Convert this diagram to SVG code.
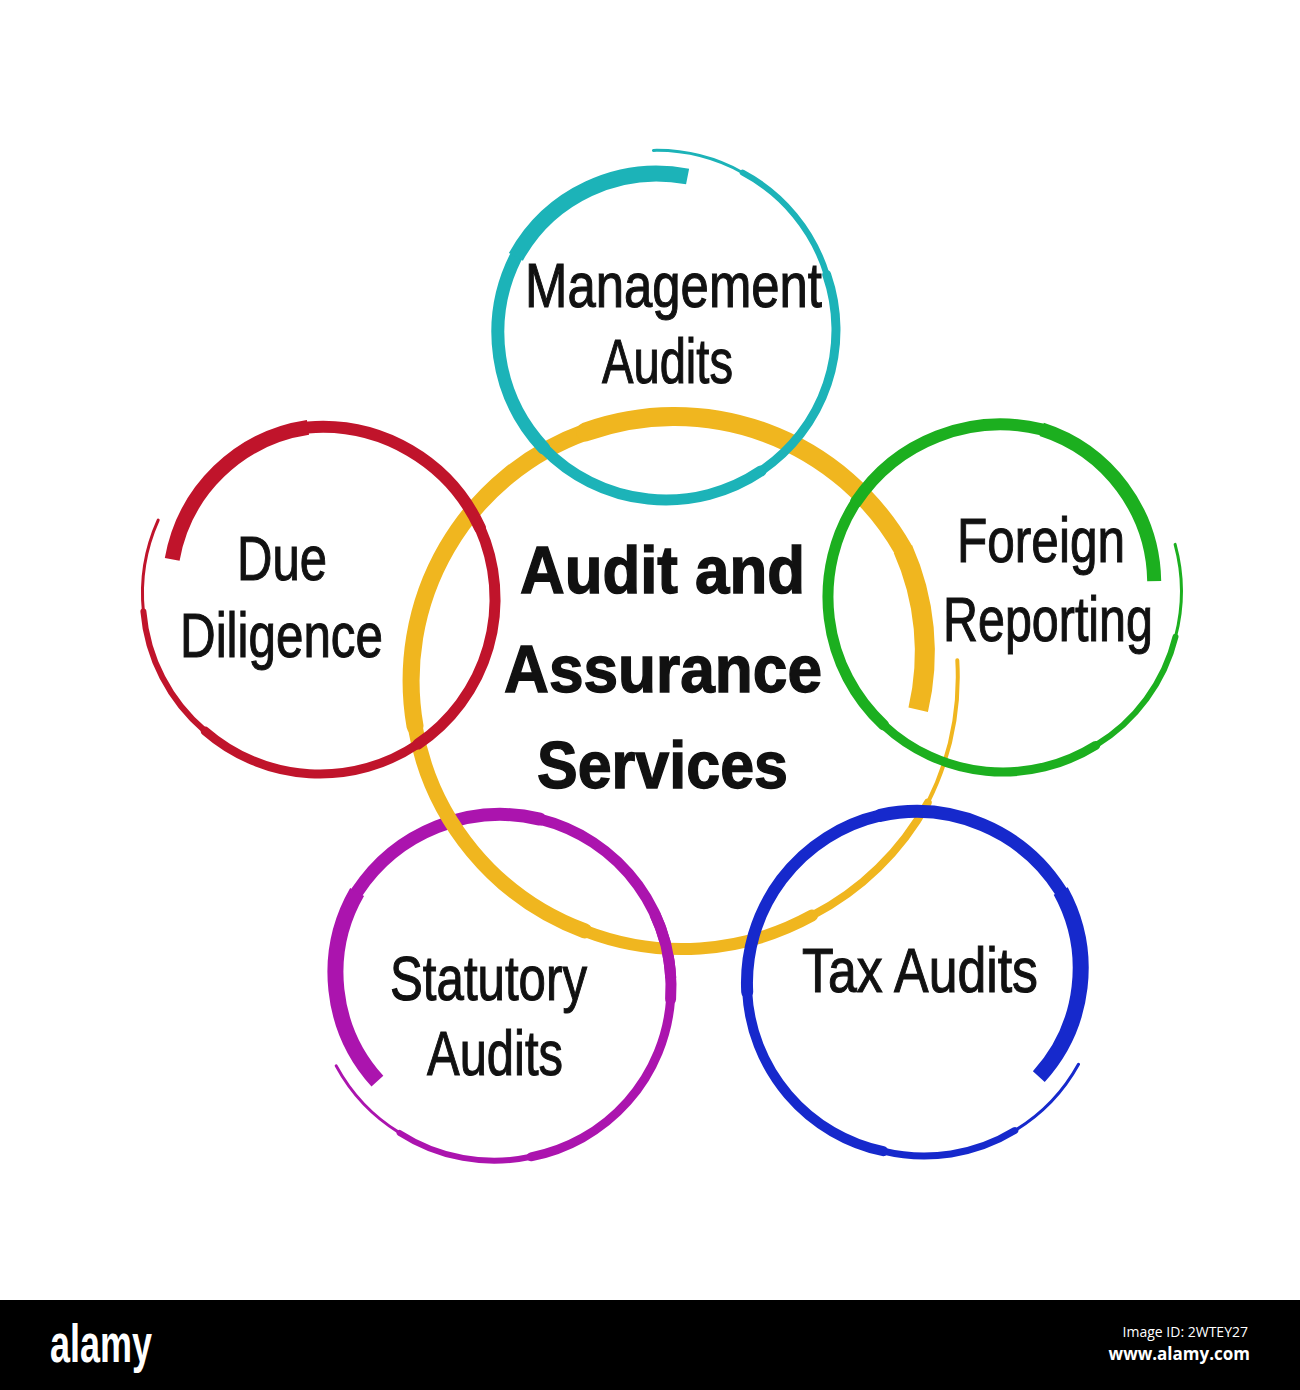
<svg xmlns="http://www.w3.org/2000/svg" width="1300" height="1390" viewBox="0 0 1300 1390">
<style>
.seg path{fill:none;stroke-linecap:round}
.seg path.end{stroke-linecap:butt}
.teal path{stroke:#1cb3b8}
.red path{stroke:#c0142b}
.green path{stroke:#1caf1f}
.purple path{stroke:#ab14ae}
.blue path{stroke:#1629cc}
.yellow path{stroke:#f0b61f}
.lbl{font-family:"Liberation Sans",Arial,sans-serif;font-size:63px;fill:#111;stroke:#111;stroke-width:1.1px}
.ctr{font-family:"Liberation Sans",Arial,sans-serif;font-size:67px;font-weight:bold;fill:#111;stroke:#111;stroke-width:1.4px}
</style>
<rect width="1300" height="1390" fill="#ffffff"/>
<g id="connectors"/>
<g id="node-statutory-ring" class="seg purple">
<path stroke-width="3" d="M336.2,1065.9 A178,178 0 0 0 399.6,1132.9"/>
<path stroke-width="6" d="M399.6,1132.9 A174.5,174.5 0 0 0 531.0,1156.8"/>
<path stroke-width="9" d="M531.0,1156.8 A173,173 0 0 0 670.6,999.1"/>
<path stroke-width="11" d="M670.6,999.1 A173,173 0 0 0 539.8,819.1"/>
<path stroke-width="13" d="M539.8,819.1 A171.5,171.5 0 0 0 357.1,891.9"/>
<path class="end" stroke-width="16" d="M357.1,891.9 A161.5,161.5 0 0 0 377.4,1081.2"/>
</g>
<g id="node-center" class="seg yellow">
<path stroke-width="4" d="M957.3,660.3 A281,281 0 0 1 927.7,802.8"/>
<path stroke-width="8" d="M927.7,802.8 A276,276 0 0 1 812,915.6"/>
<path stroke-width="12" d="M812,915.6 A269.5,269.5 0 0 1 584.7,930.9"/>
<path stroke-width="15" d="M584.7,930.9 A266,266 0 0 1 415.0,726.0"/>
<path stroke-width="17" d="M415.0,726.0 A264.5,264.5 0 0 1 585.7,431.9"/>
<path stroke-width="19" d="M585.7,431.9 A263,263 0 0 1 902.9,549"/>
<path class="end" stroke-width="20" d="M902.9,549 A253,253 0 0 1 918.2,709.7"/>
<text class="ctr" x="520" y="593" textLength="285" lengthAdjust="spacingAndGlyphs">Audit and</text>
<text class="ctr" x="504" y="692" textLength="318" lengthAdjust="spacingAndGlyphs">Assurance</text>
<text class="ctr" x="537" y="788" textLength="251" lengthAdjust="spacingAndGlyphs">Services</text>
</g>
<g class="seg purple">
<path class="end" stroke-width="11" d="M670.8,978.0 A173,173 0 0 0 654.8,913.9"/>
</g>
<g id="node-management" class="seg teal">
<path stroke-width="3" d="M653.4,150.4 A177.5,177.5 0 0 1 742.7,172.7"/>
<path stroke-width="6" d="M742.7,172.7 A172.5,172.5 0 0 1 826.7,274.6"/>
<path stroke-width="9" d="M826.7,274.6 A170,170 0 0 1 761.1,470.9"/>
<path stroke-width="11" d="M761.1,470.9 A170,170 0 0 1 543.7,448.1"/>
<path stroke-width="13" d="M543.7,448.1 A168.5,168.5 0 0 1 515.9,256.8"/>
<path class="end" stroke-width="16" d="M515.9,256.8 A161,161 0 0 1 687.6,176.5"/>
<text class="lbl" x="525" y="307" font-size="60" textLength="297" lengthAdjust="spacingAndGlyphs">Management</text>
<text class="lbl" x="602" y="383" font-size="60" textLength="131" lengthAdjust="spacingAndGlyphs">Audits</text>
</g>
<g id="node-due-diligence" class="seg red">
<path stroke-width="3" d="M158.2,520.1 A178.5,178.5 0 0 0 143.4,611.4"/>
<path stroke-width="6" d="M143.4,611.4 A176,176 0 0 0 205.2,731.1"/>
<path stroke-width="9" d="M205.2,731.1 A175,175 0 0 0 417.9,744.1"/>
<path stroke-width="11" d="M417.9,744.1 A175,175 0 0 0 479.9,527.8"/>
<path stroke-width="12" d="M479.9,527.8 A173.5,173.5 0 0 0 308.0,427.4"/>
<path class="end" stroke-width="15" d="M308.0,427.4 A162,162 0 0 0 172.2,559.4"/>
<text class="lbl" x="237" y="580" textLength="90" lengthAdjust="spacingAndGlyphs">Due</text>
<text class="lbl" x="180" y="657" textLength="203" lengthAdjust="spacingAndGlyphs">Diligence</text>
</g>
<g id="node-foreign-reporting" class="seg green">
<path stroke-width="3" d="M1175.1,544.4 A178.5,178.5 0 0 1 1175.5,636.8"/>
<path stroke-width="6" d="M1175.5,636.8 A176,176 0 0 1 1095.7,745.4"/>
<path stroke-width="9" d="M1095.7,745.4 A175,175 0 0 1 883.6,725.0"/>
<path stroke-width="11" d="M883.6,725.0 A175,175 0 0 1 856.2,501.7"/>
<path stroke-width="12" d="M856.2,501.7 A173.5,173.5 0 0 1 1041.7,429.4"/>
<path class="end" stroke-width="14" d="M1041.7,429.4 A162,162 0 0 1 1154.2,581.1"/>
<text class="lbl" x="957" y="562" textLength="168" lengthAdjust="spacingAndGlyphs">Foreign</text>
<text class="lbl" x="943" y="641" textLength="210" lengthAdjust="spacingAndGlyphs">Reporting</text>
</g>
<g id="node-statutory">
<text class="lbl" x="390" y="1000" textLength="197" lengthAdjust="spacingAndGlyphs">Statutory</text>
<text class="lbl" x="427" y="1075" textLength="136" lengthAdjust="spacingAndGlyphs">Audits</text>
</g>
<g id="node-tax-audits" class="seg blue">
<path stroke-width="3" d="M1078.5,1064.3 A177.5,177.5 0 0 1 1014.8,1130.6"/>
<path stroke-width="7" d="M1014.8,1130.6 A174,174 0 0 1 883.2,1151.2"/>
<path stroke-width="10" d="M883.2,1151.2 A172,172 0 0 1 747.2,992.0"/>
<path stroke-width="12" d="M747.2,992.0 A172,172 0 0 1 880.3,815.4"/>
<path stroke-width="13" d="M880.3,815.4 A170.5,170.5 0 0 1 1060.7,891.0"/>
<path class="end" stroke-width="16" d="M1060.7,891.0 A160.5,160.5 0 0 1 1038.8,1076.6"/>
<text class="lbl" x="802" y="992" textLength="236" lengthAdjust="spacingAndGlyphs">Tax Audits</text>
</g>
<g id="footer">
<rect x="0" y="1300" width="1300" height="90" fill="#000000"/>
<text x="50" y="1362" font-family="Liberation Sans, Arial, sans-serif" font-weight="bold" font-size="54" fill="#ffffff" textLength="102" lengthAdjust="spacingAndGlyphs">alamy</text>
<text x="1248" y="1337" text-anchor="end" font-family="Open Sans, sans-serif" font-size="14" fill="#ffffff">Image ID: 2WTEY27</text>
<text x="1250" y="1360" text-anchor="end" font-family="Open Sans, sans-serif" font-weight="bold" font-size="17" fill="#ffffff">www.alamy.com</text>
</g>
</svg>
